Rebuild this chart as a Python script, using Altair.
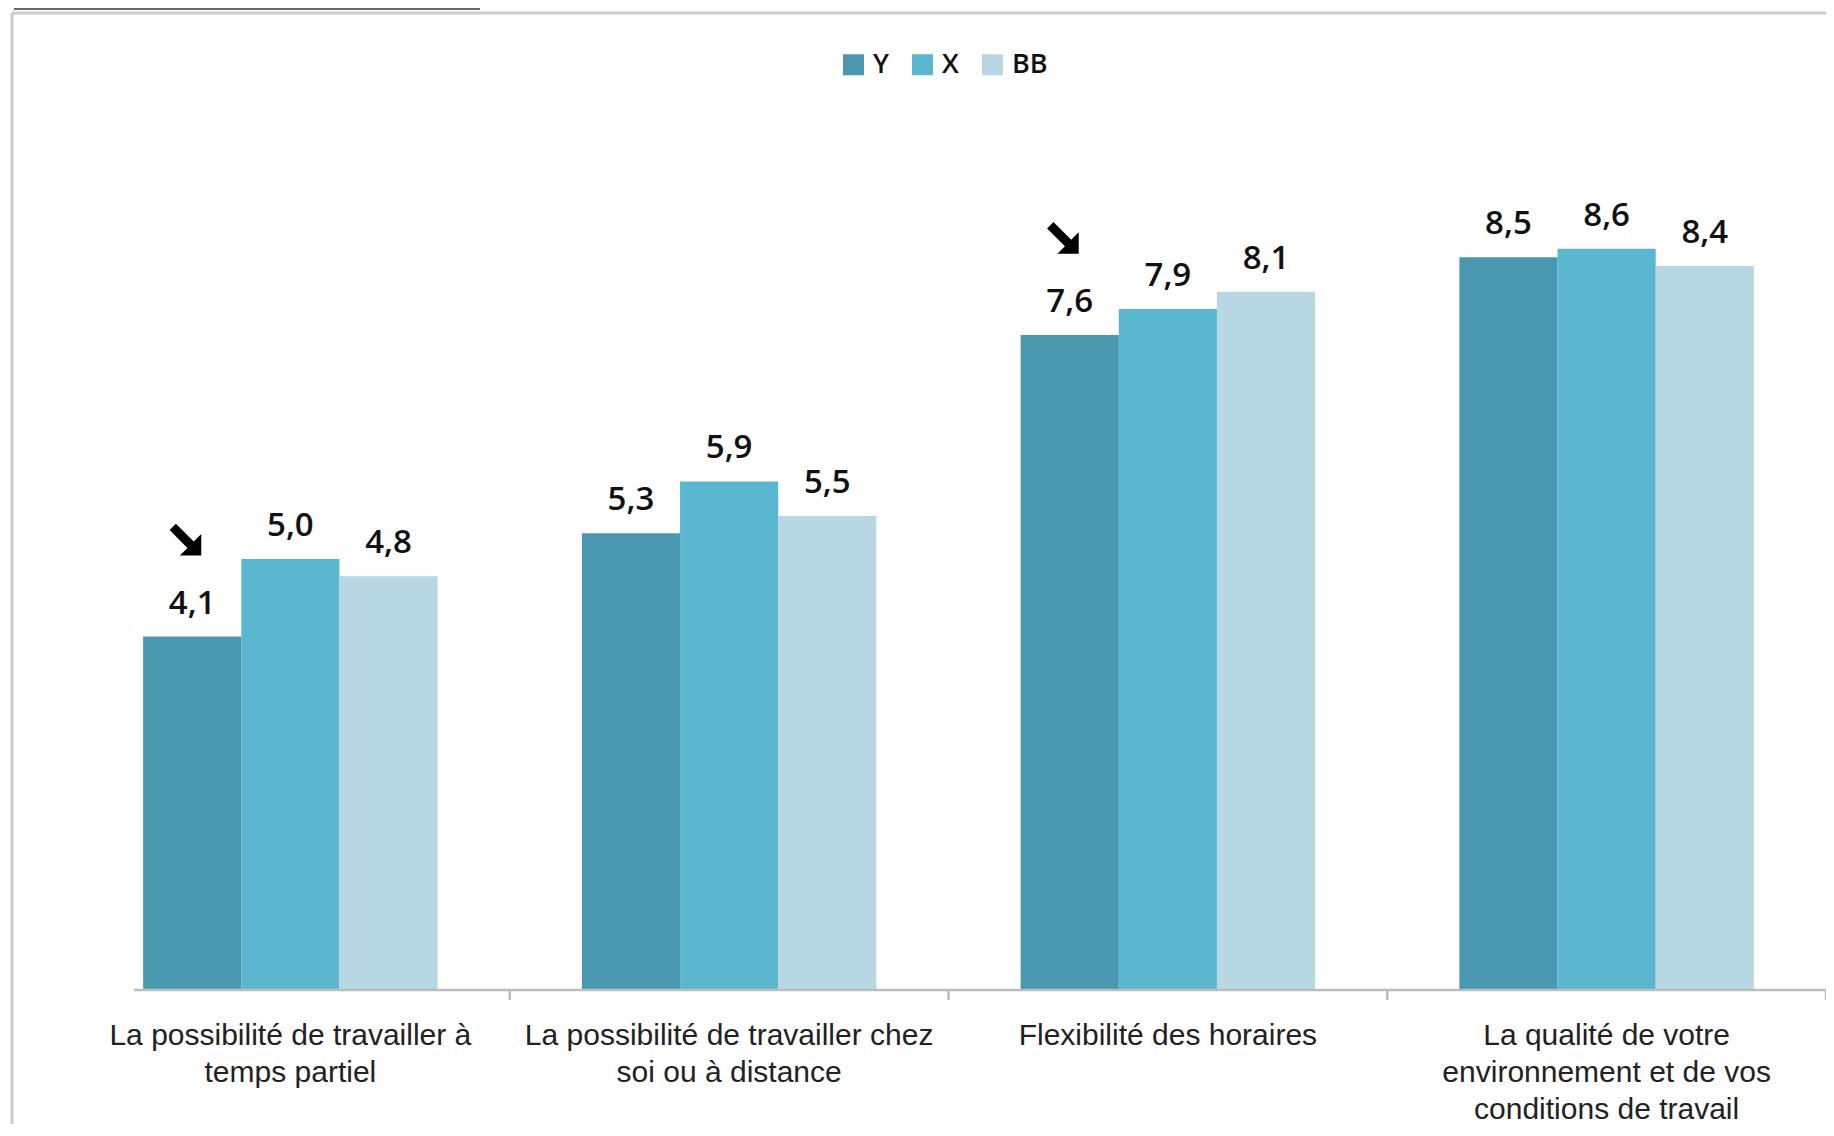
import altair as alt
import pandas as pd

categories = [
    "La possibilité de travailler à|temps partiel",
    "La possibilité de travailler chez|soi ou à distance",
    "Flexibilité des horaires",
    "La qualité de votre|environnement et de vos|conditions de travail",
]
series = ["Y", "X", "BB"]
values_Y = [4.1, 5.3, 7.6, 8.5]
values_X = [5.0, 5.9, 7.9, 8.6]
values_BB = [4.8, 5.5, 8.1, 8.4]
arrow_on_Y = [True, False, True, False]
colors = ["#4a98b0", "#5bb7d0", "#b7d7e2"]

rows = []
for s, vals in zip(series, [values_Y, values_X, values_BB]):
    for c, v in zip(categories, vals):
        rows.append({"cat": c, "series": s, "value": v})
df = pd.DataFrame(rows)
arrows = pd.DataFrame([
    {"cat": c, "series": "Y", "value": v}
    for c, v, a in zip(categories, values_Y, arrow_on_Y) if a
])
ticks_df = pd.DataFrame({"cat": categories})

W, H = 1755, 862

x_scale = alt.Scale(paddingInner=0, paddingOuter=0)
x_enc = alt.X("cat:N", sort=categories, scale=x_scale,
              axis=alt.Axis(title=None, labelAngle=0, domain=False, ticks=True,
                            tickSize=10, tickOpacity=0,
                            labelFont="Liberation Sans", labelFontSize=30,
                            labelColor="#222222", labelLimit=0, labelLineHeight=37,
                            labelPadding=20, labelExpr="split(datum.label, '|')"))
xo_enc = alt.XOffset("series:N", sort=series,
                     scale=alt.Scale(paddingInner=0, paddingOuter=0.735))
y_enc = alt.Y("value:Q", scale=alt.Scale(domain=[0, 10]), axis=None)

bars = alt.Chart(df).mark_bar().encode(
    x=x_enc, xOffset=xo_enc, y=y_enc,
    color=alt.Color("series:N", sort=series,
                    scale=alt.Scale(domain=series, range=colors),
                    legend=alt.Legend(title=None, orient="none", direction="horizontal",
                                      legendX=769, legendY=-77, symbolType="square",
                                      symbolSize=441, symbolStrokeWidth=0,
                                      labelFont="Open Sans", labelFontSize=27,
                                      labelFontWeight=600,
                                      labelColor="#111111", labelOffset=6,
                                      columnPadding=20)),
)

labels = alt.Chart(df).transform_calculate(
    lbl="replace(format(datum.value, '.1f'), '.', ',')"
).mark_text(dy=-23, baseline="alphabetic", font="Open Sans", fontSize=33,
            fontWeight=600, color="#111111").encode(
    x=x_enc, xOffset=xo_enc, y=y_enc, text="lbl:N"
)

arrow_path = ("M -1.03 -1 L 0.095 0.125 L 0.57 -0.35 L 0.57 1 L -0.78 1 "
              "L -0.305 0.525 L -1.43 -0.6 Z")
arrow_marks = alt.Chart(arrows).mark_point(
    shape=arrow_path, filled=True, color="#000000", opacity=1, size=1000,
    yOffset=-97
).encode(x=x_enc, xOffset=xo_enc, y=y_enc)

tick_marks = alt.Chart(ticks_df).mark_rule(color="#bdbdbd", strokeWidth=2.5).encode(
    x=alt.X("cat:N", sort=categories, scale=x_scale, bandPosition=1),
    y=alt.value(H), y2=alt.value(H + 10))

one = alt.Data(values=[{}])
axis_line = alt.Chart(one).mark_rule(color="#bdbdbd", strokeWidth=2.5).encode(
    x=alt.value(63), x2=alt.value(W), y=alt.value(H))
left_border = alt.Chart(one).mark_rule(color="#cccccc", strokeWidth=3).encode(
    x=alt.value(-59), y=alt.value(-115), y2=alt.value(H + 140))
top_border = alt.Chart(one).mark_rule(color="#cccccc", strokeWidth=3).encode(
    x=alt.value(-59), x2=alt.value(W), y=alt.value(-115))
dark_tab = alt.Chart(one).mark_rect(color="#666666").encode(
    x=alt.value(-57), x2=alt.value(409), y=alt.value(-130), y2=alt.value(-118))

chart = alt.layer(
    dark_tab, left_border, top_border, bars, axis_line, tick_marks, labels, arrow_marks
).properties(
    width=W, height=H,
    autosize=alt.AutoSizeParams(type="none"),
    padding={"left": 63, "top": 120, "right": 0, "bottom": 134},
    background="#ffffff",
).configure_view(strokeWidth=0)

chart.save("out.html", embed_options={"renderer": "svg", "actions": False})
